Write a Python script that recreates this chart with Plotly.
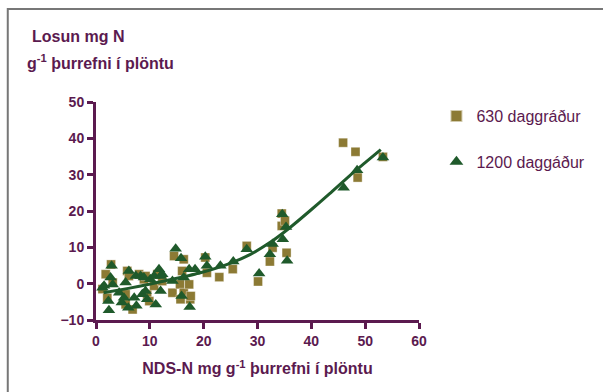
import plotly.graph_objects as go

# NDS-N content vs. N release, two temperature-sum groups
x630 = [1.2, 1.8, 2.1, 2.8, 3.1, 5.5, 5.5, 5.8, 6.1, 6.8, 8.0, 8.9, 9.2, 9.5, 9.9,
        10.8, 11.4, 12.3, 14.2, 14.5, 15.6, 15.7, 16.0, 16.3, 16.3, 17.3, 17.5, 17.6,
        20.3, 20.6, 22.9, 25.4, 28.0, 30.1, 32.3, 32.8, 34.5, 34.5, 35.1, 35.4,
        45.9, 48.2, 48.6, 53.3]
y630 = [-1.5, 2.6, -3.9, 5.3, 0.3, -2.9, -5.7, 3.5, 2.1, -7.1, 2.6, 1.2, 2.1, -2.9, -4.8,
        -0.6, 2.6, 0.7, -2.5, 7.6, -0.2, -4.3, 3.5, -2.5, 6.7, -0.2, -4.3, -3.4,
        7.2, 3.0, 1.8, 4.0, 10.4, 0.6, 6.1, 9.9, 19.3, 15.9, 17.3, 8.5,
        38.8, 36.3, 29.2, 34.9]

x1200 = [1.2, 1.5, 2.3, 2.4, 2.7, 2.9, 3.1, 4.3, 4.8, 5.2, 5.5, 6.0, 6.1, 7.1, 7.4,
         7.5, 8.3, 8.6, 8.9, 9.2, 9.5, 10.1, 10.8, 11.1, 11.7, 12.0, 12.0, 12.3, 14.2,
         14.8, 15.8, 15.9, 16.3, 17.3, 17.4, 18.4, 20.3, 20.6, 23.1, 25.5, 28.0, 30.3,
         32.3, 32.8, 34.6, 34.7, 35.3, 35.5, 46.0, 48.5, 53.3]
y1200 = [-1.1, -0.6, -4.8, -7.3, 1.7, 4.9, -0.2, -2.5, -5.2, -3.9, 0.3, -6.6, 3.5, -3.9, 2.1,
         -6.1, 2.1, -2.9, 1.7, -2.0, -4.3, 1.2, 2.1, -5.7, 4.0, 2.1, -2.0, 2.6, 0.7,
         9.6, 7.0, -3.4, 1.7, 4.0, -6.4, 4.0, 7.4, 4.9, 4.9, 6.1, 9.5, 2.8,
         8.1, 10.9, 19.1, 12.2, 15.6, 6.3, 26.4, 31.2, 34.7]

# Fitted trend line, sampled along its length
trend_x = [1.4, 6.0, 10.1, 14.8, 19.4, 24.9, 28.6, 32.3, 36.0, 39.7, 43.4, 47.1, 50.0, 52.9]
trend_y = [-2.5, -1.3, -0.1, 1.4, 3.0, 5.6, 8.0, 11.3, 15.4, 20.0, 24.8, 29.7, 33.3, 36.9]

x_ticks = [0, 10, 20, 30, 40, 50, 60]
y_ticks = [-10, 0, 10, 20, 30, 40, 50]

PURPLE = "#5b1a4f"
OLIVE = "#8c7a34"
GREEN = "#1f5a2b"
FONT = "Liberation Sans, Arial, sans-serif"

W, H = 603, 392
ML, MR, MT, MB = 95.5, 183.5, 102, 72
PW, PH = W - ML - MR, H - MT - MB


def px_x(px):
    return (px - ML) / PW


def px_y(py):
    return (H - MB - py) / PH


fig = go.Figure()
fig.add_trace(go.Scatter(
    x=x630, y=y630, mode="markers", name="630 daggráður", legendgroup="a",
    marker=dict(symbol="square", size=9, color=OLIVE,
                line=dict(color="rgba(255,255,255,0.6)", width=0.6)),
))
fig.add_trace(go.Scatter(
    x=x1200, y=y1200, mode="markers", name="1200 daggáður", legendgroup="b",
    marker=dict(symbol="triangle-up", size=11, color=GREEN, line=dict(width=0)),
))
fig.add_trace(go.Scatter(
    x=trend_x, y=trend_y, mode="lines", showlegend=False,
    line=dict(color=GREEN, width=3, shape="spline", smoothing=0.5),
    hoverinfo="skip",
))

axis_common = dict(
    showline=True, linecolor=PURPLE, linewidth=3,
    ticks="outside", ticklen=6, tickwidth=3, tickcolor=PURPLE,
    showgrid=False, zeroline=False,
    tickfont=dict(family=FONT, size=14, color=PURPLE, weight="bold"),
    fixedrange=True,
)

fig.update_layout(
    width=W, height=H,
    margin=dict(l=ML, r=MR, t=MT, b=MB, pad=0),
    paper_bgcolor="white", plot_bgcolor="white",
    font=dict(family=FONT, color=PURPLE),
    xaxis=dict(range=[0, 60], tickvals=x_ticks, **axis_common,
               title=dict(text="NDS-N mg g<sup>-1</sup> þurrefni í plöntu",
                          font=dict(family=FONT, size=16, color=PURPLE, weight="bold"),
                          standoff=16)),
    yaxis=dict(range=[-10, 50], tickvals=y_ticks, **axis_common),
    legend=dict(
        x=px_x(437), y=px_y(99), xanchor="left", yanchor="top",
        font=dict(family=FONT, size=16, color=PURPLE),
        bgcolor="rgba(0,0,0,0)", tracegroupgap=22,
        itemsizing="constant",
    ),
    showlegend=True,
    annotations=[
        dict(text="<b>Losun mg N</b>", xref="paper", yref="paper",
             x=px_x(29), y=px_y(37), xanchor="left", yanchor="middle",
             showarrow=False, font=dict(family=FONT, size=16, color=PURPLE)),
        dict(text="<b>g<sup>-1</sup> þurrefni í plöntu</b>", xref="paper", yref="paper",
             x=px_x(24), y=px_y(62), xanchor="left", yanchor="middle",
             showarrow=False, font=dict(family=FONT, size=16, color=PURPLE)),
    ],
    shapes=[
        dict(type="rect", xref="paper", yref="paper",
             x0=px_x(7), x1=px_x(W + 20), y0=px_y(H + 20), y1=px_y(9),
             line=dict(color="#777777", width=2), fillcolor="rgba(0,0,0,0)",
             layer="below"),
    ],
)

fig.write_html("out.html")
